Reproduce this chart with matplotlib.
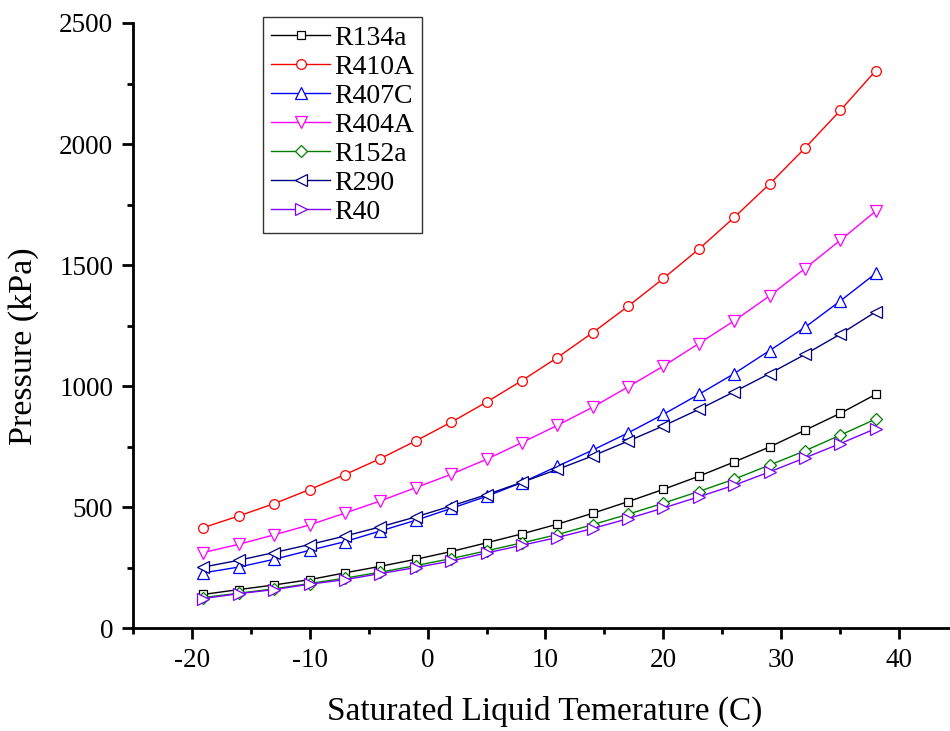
import matplotlib
matplotlib.use("Agg")
import matplotlib.pyplot as plt
from matplotlib.ticker import MultipleLocator

temps = [-19, -16, -13, -10, -7, -4, -1, 2, 5, 8, 11, 14, 17, 20, 23, 26, 29, 32, 35, 38]

r134a = [140, 160, 179, 201, 229, 256, 285, 317, 353, 390, 430, 475, 523, 574, 628, 687, 749, 818, 888, 966]
r410a = [416, 464, 515, 573, 635, 701, 774, 851, 934, 1023, 1118, 1221, 1330, 1445, 1566, 1697, 1835, 1983, 2139, 2303]
r407c = [229, 253, 285, 322, 358, 402, 446, 495, 545, 602, 669, 736, 807, 884, 966, 1052, 1147, 1243, 1352, 1466]
r404a = [313, 347, 386, 427, 476, 526, 581, 636, 698, 767, 838, 913, 997, 1083, 1176, 1270, 1373, 1486, 1603, 1723]
r152a = [127, 145, 163, 185, 207, 232, 259, 288, 320, 353, 387, 428, 471, 517, 565, 616, 674, 733, 798, 864]
r290 = [253, 281, 313, 346, 381, 419, 460, 505, 552, 603, 656, 712, 773, 836, 904, 977, 1052, 1131, 1215, 1307]
r40 = [123, 143, 160, 182, 201, 226, 251, 278, 311, 343, 375, 412, 453, 497, 543, 591, 646, 704, 763, 825]

series = [
    ("R134a", r134a, "#000000", "s", 6),
    ("R410A", r410a, "#FF0000", "o", 7),
    ("R407C", r407c, "#0000FF", "^", 8),
    ("R404A", r404a, "#FF00FF", "v", 8),
    ("R152a", r152a, "#008000", "D", 6),
    ("R290", r290, "#000080", "<", 8),
    ("R40", r40, "#8000FF", ">", 8),
]

plt.rcParams['font.family'] = ['Liberation Serif', 'DejaVu Serif']
plt.rcParams['axes.unicode_minus'] = False

fig = plt.figure(figsize=(9.5, 7.31), dpi=100)
ax = fig.add_axes([132.7/950, 1 - 628.3/731, (950 - 132.7)/950, (628.3 - 23)/731])

for name, vals, col, mk, ms in series:
    ax.plot(temps, vals, color=col, marker=mk, markersize=ms, markerfacecolor='white',
            markeredgecolor=col, markeredgewidth=0.9, linewidth=1.0, label=name)

ax.set_xlim(-25, 44.3)
ax.set_ylim(0, 2500)
ax.xaxis.set_major_locator(MultipleLocator(10))
ax.xaxis.set_minor_locator(MultipleLocator(5))
ax.yaxis.set_major_locator(MultipleLocator(500))
ax.yaxis.set_minor_locator(MultipleLocator(250))

for s in ['top', 'right']:
    ax.spines[s].set_visible(False)
for s in ['left', 'bottom']:
    ax.spines[s].set_linewidth(2.0)

ax.tick_params(axis='both', which='major', direction='out', length=8, width=2, labelsize=19.5, pad=6)
ax.tick_params(axis='both', which='minor', direction='out', length=4, width=2)

ax.set_xlabel("Saturated Liquid Temerature (C)", fontsize=24)
ax.set_ylabel("Pressure (kPa)", fontsize=24.5)
ax.xaxis.set_label_coords(0.504, -0.112)
ax.yaxis.set_label_coords(-0.115, 0.466)

leg = ax.legend(loc='upper left', bbox_to_anchor=(263/950, 1 - 17/731), bbox_transform=fig.transFigure,
                fontsize=20, frameon=True, fancybox=False, handlelength=2.1, handletextpad=0.15,
                labelspacing=0.13, borderpad=0.3, borderaxespad=0)
leg.get_frame().set_edgecolor('black')
leg.get_frame().set_linewidth(1.0)

fig.savefig("out.png", dpi=100)
